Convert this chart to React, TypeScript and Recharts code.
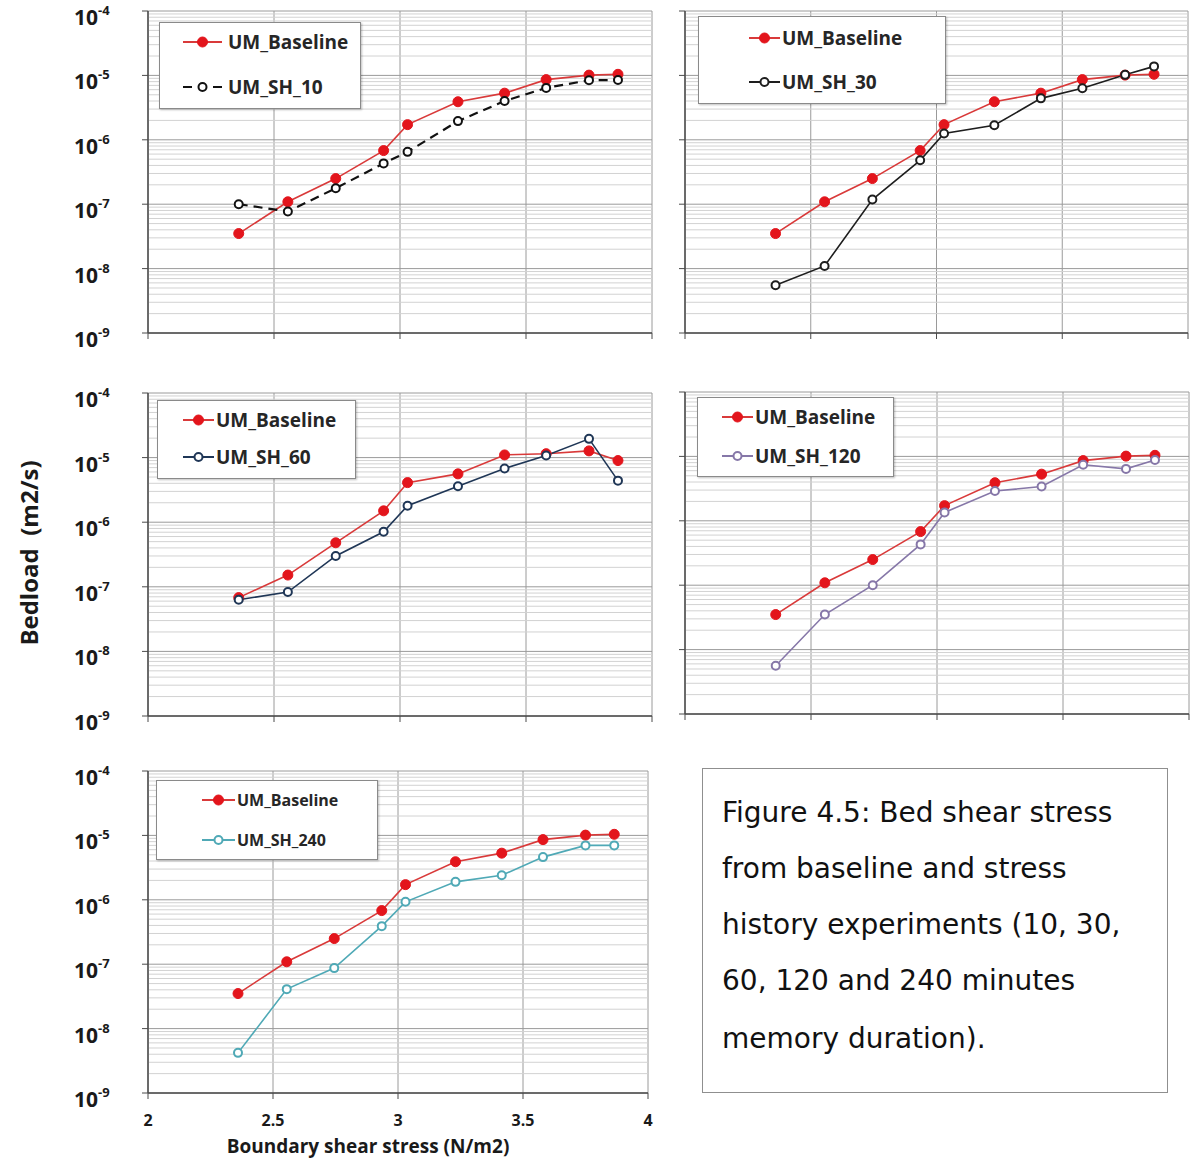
import React from "react";
import { LineChart, Line, XAxis, YAxis, CartesianGrid, ReferenceLine } from "recharts";

// boundary shear stress (N/m2) for each run, shared by every panel
const shear = [2.36, 2.555, 2.745, 2.935, 3.03, 3.23, 3.415, 3.58, 3.75, 3.865];

// bedload (m2/s)
const baseline = [3.5e-8, 1.09e-7, 2.5e-7, 6.8e-7, 1.72e-6, 3.9e-6, 5.3e-6, 8.6e-6, 1.01e-5, 1.04e-5];
const baseline60 = [6.8e-8, 1.52e-7, 4.8e-7, 1.5e-6, 4.1e-6, 5.6e-6, 1.1e-5, 1.15e-5, 1.27e-5, 9.0e-6];
const sh10 = [1.0e-7, 7.7e-8, 1.77e-7, 4.3e-7, 6.5e-7, 1.95e-6, 4.0e-6, 6.4e-6, 8.4e-6, 8.5e-6];
const sh30 = [5.5e-9, 1.1e-8, 1.18e-7, 4.8e-7, 1.25e-6, 1.68e-6, 4.4e-6, 6.3e-6, 1.02e-5, 1.38e-5];
const sh60 = [6.3e-8, 8.3e-8, 3.0e-7, 7.1e-7, 1.8e-6, 3.6e-6, 6.8e-6, 1.08e-5, 1.95e-5, 4.4e-6];
const sh120 = [5.6e-9, 3.5e-8, 1.0e-7, 4.3e-7, 1.35e-6, 2.9e-6, 3.4e-6, 7.4e-6, 6.4e-6, 8.8e-6];
const sh240 = [4.2e-9, 4.1e-8, 8.7e-8, 3.9e-7, 9.3e-7, 1.9e-6, 2.4e-6, 4.6e-6, 7.0e-6, 7.0e-6];

const xTicks = [2, 2.5, 3, 3.5, 4];
const yTicks = [1e-9, 1e-8, 1e-7, 1e-6, 1e-5, 1e-4];

const captionLines = [
  "Figure 4.5: Bed shear stress",
  "from baseline and stress",
  "history experiments (10, 30,",
  "60, 120 and 240 minutes",
  "memory duration).",
];
const captionY = [813, 869, 925, 981, 1039];

// minor log gridlines 2..9 x 10^k
const minorY: number[] = [];
for (let e = -9; e < -4; e++) {
  for (let m = 2; m <= 9; m++) minorY.push(m * Math.pow(10, e));
}

const FONT = "'Open Sans', sans-serif";
const RED = "#e3151c";
const RED_LINE = "#d93a3a";
const AXIS = "#4a4a4a";

const ML = 100; // space left of plot inside each chart
const MT = 10;

type LegendSpec = {
  x: number; y: number; w: number; h: number;
  iconX: number; iconW: number; textX: number;
  rows: number[]; fontSize: number;
};

type PanelSpec = {
  left: number; top: number; w: number; h: number;
  base: number[]; sh: number[]; name: string; color: string; dashed?: boolean;
  yLabels: boolean; xLabels: boolean; legend: LegendSpec;
};

const panels: PanelSpec[] = [
  {
    left: 148, top: 11, w: 504, h: 322, base: baseline, sh: sh10, name: "UM_SH_10", color: "#111", dashed: true,
    yLabels: true, xLabels: false,
    legend: { x: 159, y: 22, w: 202, h: 87, iconX: 183, iconW: 39, textX: 228, rows: [42, 87], fontSize: 19 },
  },
  {
    left: 685, top: 11, w: 503, h: 322, base: baseline, sh: sh30, name: "UM_SH_30", color: "#1e1e1e",
    yLabels: false, xLabels: false,
    legend: { x: 698, y: 16, w: 248, h: 88, iconX: 749, iconW: 31, textX: 782, rows: [38, 82], fontSize: 19 },
  },
  {
    left: 148, top: 393, w: 504, h: 323, base: baseline60, sh: sh60, name: "UM_SH_60", color: "#1f3656",
    yLabels: true, xLabels: false,
    legend: { x: 157, y: 400, w: 199, h: 79, iconX: 183, iconW: 31, textX: 216, rows: [420, 457], fontSize: 19 },
  },
  {
    left: 685, top: 392, w: 504, h: 322, base: baseline, sh: sh120, name: "UM_SH_120", color: "#8677a8",
    yLabels: false, xLabels: false,
    legend: { x: 697, y: 397, w: 197, h: 80, iconX: 722, iconW: 31, textX: 755, rows: [417, 456], fontSize: 19 },
  },
  {
    left: 148, top: 771, w: 500, h: 322, base: baseline, sh: sh240, name: "UM_SH_240", color: "#4fa9b6",
    yLabels: true, xLabels: true,
    legend: { x: 156, y: 780, w: 222, h: 80, iconX: 202, iconW: 33, textX: 237, rows: [800, 840], fontSize: 16 },
  },
];

function LegendIcon({ w, color, filled, dashed }: { w: number; color: string; filled: boolean; dashed?: boolean }) {
  const c = w / 2;
  return (
    <svg width={w} height={16} style={{ position: "absolute", left: 0, top: 0, overflow: "visible" }}>
      {dashed ? (
        <>
          <line x1={0} x2={9} y1={8} y2={8} stroke={color} strokeWidth={2} />
          <line x1={w - 9} x2={w} y1={8} y2={8} stroke={color} strokeWidth={2} />
        </>
      ) : (
        <line x1={0} x2={w} y1={8} y2={8} stroke={filled ? RED_LINE : color} strokeWidth={2} />
      )}
      {filled ? (
        <circle cx={c} cy={8} r={5} fill={RED} stroke={RED} />
      ) : (
        <circle cx={c} cy={8} r={4} fill="#fff" stroke={color} strokeWidth={2} />
      )}
    </svg>
  );
}

function LegendBox({ spec, name, color, dashed }: { spec: LegendSpec; name: string; color: string; dashed?: boolean }) {
  const items = [
    { label: "UM_Baseline", filled: true, dashed: false },
    { label: name, filled: false, dashed: !!dashed },
  ];
  const lh = spec.fontSize + 8;
  return (
    <div
      style={{
        position: "absolute", left: spec.x, top: spec.y, width: spec.w, height: spec.h,
        border: "1px solid #8a8a8a", background: "#fff", boxSizing: "border-box",
        boxShadow: "1px 1px 2px rgba(0,0,0,0.25)",
      }}
    >
      {items.map((it, i) => {
        const cy = spec.rows[i] - spec.y - 1;
        return (
          <React.Fragment key={it.label}>
            <div style={{ position: "absolute", left: spec.iconX - spec.x - 1, top: cy - 8, width: spec.iconW, height: 16 }}>
              <LegendIcon w={spec.iconW} color={color} filled={it.filled} dashed={it.dashed} />
            </div>
            <div
              style={{
                position: "absolute", left: spec.textX - spec.x - 1, top: cy - lh / 2, lineHeight: `${lh}px`,
                fontFamily: FONT, fontWeight: 700, fontSize: spec.fontSize, color: "#262626", whiteSpace: "nowrap",
              }}
            >
              {it.label}
            </div>
          </React.Fragment>
        );
      })}
    </div>
  );
}

function Panel({ p }: { p: PanelSpec }) {
  const data = shear.map((x, i) => ({ x, base: p.base[i], sh: p.sh[i] }));
  const width = ML + p.w + 12;
  const height = MT + p.h + 45;
  const plotBottom = MT + p.h;

  const yTick = (props: any) => {
    if (!p.yLabels) return <g />;
    const v = props.payload.value as number;
    const exp = Math.round(Math.log10(v));
    return (
      <text x={ML - 74} y={props.y + 14} fontFamily={FONT} fontWeight={700} fontSize={21} fill="#1a1a1a">
        <tspan>10</tspan>
        <tspan dy={-10} fontSize={13}>{exp}</tspan>
      </text>
    );
  };

  const xTick = (props: any) => {
    if (!p.xLabels) return <g />;
    return (
      <text x={props.x} y={plotBottom + 33} textAnchor="middle" fontFamily={FONT} fontWeight={700} fontSize={16} fill="#1a1a1a">
        {props.payload.value}
      </text>
    );
  };

  return (
    <div style={{ position: "absolute", left: p.left - ML, top: p.top - MT }}>
      <LineChart width={width} height={height} data={data} margin={{ top: MT, right: 12, bottom: 0, left: 0 }}>
        <CartesianGrid stroke="#9a9a9a" strokeWidth={1} />
        {minorY.map((v) => (
          <ReferenceLine key={v} y={v} stroke="#d2d2d2" strokeWidth={1} ifOverflow="hidden" />
        ))}
        <XAxis
          dataKey="x"
          type="number"
          domain={[2, 4]}
          ticks={xTicks}
          height={45}
          tickSize={6}
          axisLine={{ stroke: AXIS, strokeWidth: 1.5 }}
          tickLine={{ stroke: AXIS }}
          tick={xTick}
          interval={0}
        />
        <YAxis
          type="number"
          scale="log"
          domain={[1e-9, 1e-4]}
          ticks={yTicks}
          allowDataOverflow
          width={ML}
          tickSize={6}
          axisLine={{ stroke: AXIS, strokeWidth: 1.5 }}
          tickLine={{ stroke: AXIS }}
          tick={yTick}
          interval={0}
        />
        <Line
          dataKey="base"
          stroke={RED_LINE}
          strokeWidth={1.6}
          dot={{ r: 5, fill: RED, stroke: RED, strokeWidth: 1 }}
          activeDot={false}
          isAnimationActive={false}
        />
        <Line
          dataKey="sh"
          stroke={p.color}
          strokeWidth={p.dashed ? 2.2 : 1.6}
          strokeDasharray={p.dashed ? "9 6" : undefined}
          dot={{ r: 4, fill: "#fff", stroke: p.color, strokeWidth: 2, strokeDasharray: "" }}
          activeDot={false}
          isAnimationActive={false}
        />
      </LineChart>
    </div>
  );
}

export default function App() {
  return (
    <div style={{ position: "absolute", left: 0, top: 0, width: 1197, height: 1160, background: "#fff" }}>
      {panels.map((p) => (
        <Panel key={p.name} p={p} />
      ))}
      {panels.map((p) => (
        <LegendBox key={p.name + "-lg"} spec={p.legend} name={p.name} color={p.color} dashed={p.dashed} />
      ))}

      <div
        style={{
          position: "absolute", left: 28, top: 553, transform: "translate(-50%, -50%) rotate(-90deg)",
          fontFamily: FONT, fontWeight: 700, fontSize: 24, color: "#1a1a1a", whiteSpace: "pre",
        }}
      >
        {"Bedload  (m2/s)"}
      </div>

      <div
        style={{
          position: "absolute", left: 368, top: 1146, transform: "translate(-50%, -50%)",
          fontFamily: FONT, fontWeight: 700, fontSize: 19, color: "#1a1a1a", whiteSpace: "nowrap",
        }}
      >
        Boundary shear stress (N/m2)
      </div>

      <div
        style={{
          position: "absolute", left: 702, top: 768, width: 466, height: 325,
          border: "1px solid #8f8f8f", boxSizing: "border-box",
        }}
      />
      {captionLines.map((t, i) => (
        <div
          key={t}
          style={{
            position: "absolute", left: 722, top: captionY[i] - 20, lineHeight: "40px",
            fontFamily: "'DejaVu Sans', sans-serif", fontSize: 28, color: "#111", whiteSpace: "nowrap",
          }}
        >
          {t}
        </div>
      ))}
    </div>
  );
}
